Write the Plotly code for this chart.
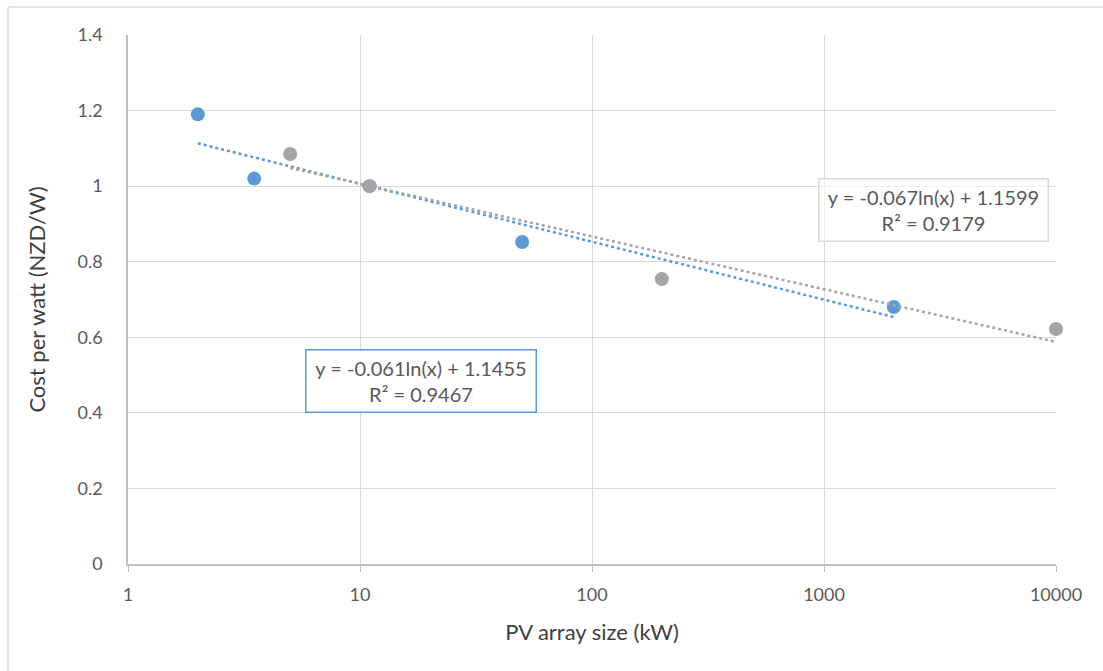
import numpy as np
import plotly.graph_objects as go

# Data
blue_x = [2, 3.5, 11, 50, 2000]
blue_y = [1.19, 1.02, 1.0, 0.852, 0.68]
gray_x = [5, 11, 200, 10000]
gray_y = [1.085, 1.0, 0.754, 0.622]

x_tickvals = [1, 10, 100, 1000, 10000]
y_tickvals = [0, 0.2, 0.4, 0.6, 0.8, 1.0, 1.2, 1.4]
y_ticktext = ["0", "0.2", "0.4", "0.6", "0.8", "1", "1.2", "1.4"]

eq_gray = "y = -0.067ln(x) + 1.1599<br>R² = 0.9179"
eq_blue = "y = -0.061ln(x) + 1.1455<br>R² = 0.9467"

BLUE = "#5b9bd5"
GRAY = "#a5a5a5"
TXT = "#595959"
FONT = "Lato, Open Sans, sans-serif"


def log_fit_line(xs, ys):
    lx = np.log(np.array(xs, dtype=float))
    slope, icpt = np.polyfit(lx, np.array(ys, dtype=float), 1)
    xx = np.logspace(np.log10(min(xs)), np.log10(max(xs)), 60)
    return xx, slope * np.log(xx) + icpt


fig = go.Figure()
fig.add_trace(go.Scatter(x=blue_x, y=blue_y, mode="markers", cliponaxis=False,
                         marker=dict(color=BLUE, size=14), showlegend=False))
fig.add_trace(go.Scatter(x=gray_x, y=gray_y, mode="markers", cliponaxis=False,
                         marker=dict(color=GRAY, size=14), showlegend=False))
bx, by = log_fit_line(blue_x, blue_y)
gx, gy = log_fit_line(gray_x, gray_y)
fig.add_trace(go.Scatter(x=bx, y=by, mode="lines", cliponaxis=False,
                         line=dict(color=BLUE, width=2.5, dash="dot"), showlegend=False))
fig.add_trace(go.Scatter(x=gx, y=gy, mode="lines", cliponaxis=False,
                         line=dict(color=GRAY, width=2.5, dash="dot"), showlegend=False))

fig.update_layout(
    width=1103, height=671,
    margin=dict(l=128, r=47, t=35, b=107),
    paper_bgcolor="white", plot_bgcolor="white",
    font=dict(family=FONT, color=TXT, size=18),
    xaxis=dict(type="log", range=[0, 4], tickvals=x_tickvals,
               ticktext=[str(v) for v in x_tickvals],
               showgrid=True, gridcolor="#d9d9d9", gridwidth=1.3,
               showline=True, linecolor="#bfbfbf", linewidth=1.5,
               ticks="outside", ticklen=6, tickcolor="#bfbfbf",
               ticklabelstandoff=8,
               tickfont=dict(size=18, color=TXT), zeroline=False,
               title=dict(text="PV array size (kW)", font=dict(size=22, color="#404040"),
                          standoff=20)),
    yaxis=dict(range=[0, 1.4], tickvals=y_tickvals, ticktext=y_ticktext,
               showgrid=True, gridcolor="#d9d9d9", gridwidth=1.3,
               showline=True, linecolor="#bfbfbf", linewidth=1.5,
               ticks="", ticklabelstandoff=20,
               tickfont=dict(size=18, color=TXT), zeroline=False,
               title=dict(text="Cost per watt (NZD/W)", font=dict(size=22, color="#404040"),
                          standoff=26)),
    annotations=[
        dict(text=eq_gray, xref="paper", yref="paper", x=0.8675, y=0.670,
             xanchor="center", yanchor="middle", showarrow=False,
             width=228, height=61, borderpad=0, bordercolor="#d9d9d9",
             borderwidth=1.5, bgcolor="rgba(255,255,255,0.6)",
             font=dict(size=20, color=TXT, family=FONT)),
        dict(text=eq_blue, xref="paper", yref="paper", x=0.3152, y=0.345,
             xanchor="center", yanchor="middle", showarrow=False,
             width=229, height=61, borderpad=0, bordercolor=BLUE,
             borderwidth=1.5, bgcolor="white",
             font=dict(size=20, color=TXT, family=FONT)),
    ],
    shapes=[
        dict(type="line", xref="paper", yref="paper", x0=-0.1293, x1=-0.1293,
             y0=1.0529, y1=-0.3, line=dict(color="#d9d9d9", width=1.5)),
        dict(type="line", xref="paper", yref="paper", x0=-0.1293, x1=1.1,
             y0=1.0529, y1=1.0529, line=dict(color="#d9d9d9", width=1.5)),
    ],
)

fig.write_html("out.html")
